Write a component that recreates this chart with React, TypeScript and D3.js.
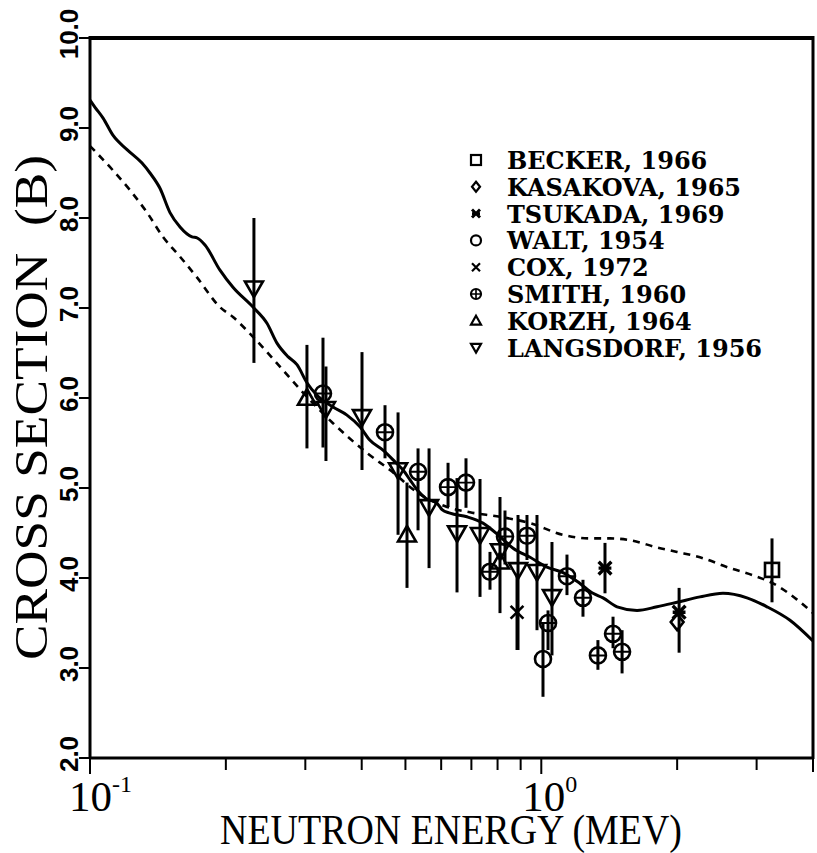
import { useEffect, useRef } from "react";
import * as d3 from "d3";

const WIDTH = 817;
const HEIGHT = 853;

// evaluated cross section, solid curve (MeV, barns)
const solidEnergy = [0.1, 0.1026, 0.1069, 0.1124, 0.1208, 0.1304, 0.1358, 0.1429, 0.1504, 0.1583, 0.1683, 0.1726, 0.1798, 0.1941, 0.2074, 0.2297, 0.2467, 0.2596, 0.2746, 0.2875, 0.3025, 0.3184, 0.3455, 0.371, 0.3965, 0.4173, 0.4459, 0.4742, 0.494, 0.5119, 0.5305, 0.5527, 0.5874, 0.6026, 0.6277, 0.6844, 0.7426, 0.8099, 0.866, 0.9441, 1.0295, 1.117, 1.218, 1.302, 1.37, 1.472, 1.63, 1.805, 1.999, 2.247, 2.527, 2.856, 3.163, 3.557, 4.0];
const solidSigma = [9.31, 9.23, 9.11, 8.92, 8.76, 8.61, 8.5, 8.33, 8.06, 7.9, 7.79, 7.78, 7.7, 7.42, 7.23, 7.01, 6.83, 6.61, 6.46, 6.37, 6.17, 6.03, 5.9, 5.81, 5.68, 5.53, 5.42, 5.29, 5.2, 5.09, 4.98, 4.89, 4.83, 4.76, 4.72, 4.68, 4.61, 4.46, 4.33, 4.23, 4.12, 4.06, 3.94, 3.83, 3.78, 3.68, 3.64, 3.68, 3.73, 3.79, 3.83, 3.78, 3.68, 3.53, 3.3];

// dashed curve
const dashedEnergy = [0.1, 0.1124, 0.1226, 0.1338, 0.1451, 0.1583, 0.1726, 0.1941, 0.2074, 0.2297, 0.2677, 0.2965, 0.3455, 0.411, 0.4621, 0.5386, 0.6182, 0.6951, 0.8099, 0.9441, 1.117, 1.282, 1.42, 1.572, 1.805, 1.999, 2.247, 2.619, 2.945, 3.262, 3.687, 4.0];
const dashedSigma = [8.8, 8.53, 8.31, 8.06, 7.79, 7.57, 7.34, 7.01, 6.9, 6.68, 6.31, 6.06, 5.72, 5.39, 5.2, 4.93, 4.79, 4.73, 4.68, 4.61, 4.48, 4.44, 4.44, 4.42, 4.34, 4.29, 4.23, 4.11, 4.03, 3.94, 3.76, 3.61];

// measurements: [energy, sigma, low, high]
const becker = [[3.245, 4.09, 3.73, 4.44]];
const kasakova = [[2.0, 3.51, 3.51, 3.51]];
const tsukada = [[1.384, 4.11, 3.83, 4.39], [2.02, 3.62, 3.17, 3.89]];
const walt = [[1.0087, 3.1, 2.68, 3.5]];
const cox = [[0.8835, 3.62, 3.2, 4.05]];
const smith = [
  [0.3283, 6.05, 5.45, 6.67], [0.4505, 5.62, 5.33, 5.92], [0.5332, 5.18, 4.53, 5.44],
  [0.6214, 5.01, 4.79, 5.28], [0.681, 5.06, 4.78, 5.33], [0.7697, 4.07, 3.87, 4.29],
  [0.8309, 4.46, 4.15, 4.75], [0.9296, 4.47, 4.2, 4.7], [1.035, 3.5, 3.2, 3.64],
  [1.14, 4.02, 3.81, 4.26], [1.237, 3.78, 3.57, 3.98], [1.335, 3.14, 2.98, 3.31],
  [1.442, 3.38, 3.22, 3.57], [1.51, 3.18, 2.94, 3.42],
];
const korzh = [[0.3025, 6.0, 5.44, 6.59], [0.504, 4.48, 3.89, 5.06], [0.81, 4.18, 4.18, 4.18]];
const langsdorf = [
  [0.2308, 7.22, 6.39, 8.0], [0.3333, 5.88, 5.3, 6.35], [0.4006, 5.79, 5.2, 6.51],
  [0.4815, 5.2, 4.48, 5.84], [0.564, 4.79, 4.11, 5.44], [0.6505, 4.5, 3.84, 5.11],
  [0.7315, 4.48, 3.79, 5.1], [0.81, 4.3, 3.61, 4.9], [0.888, 4.09, 3.2, 4.7],
  [0.9783, 4.07, 3.42, 4.7], [1.056, 3.79, 3.14, 4.4],
];

const legendNames = ["BECKER, 1966", "KASAKOVA, 1965", "TSUKADA, 1969", "WALT, 1954", "COX, 1972", "SMITH, 1960", "KORZH, 1964", "LANGSDORF, 1956"];
const legendSymbols = ["square", "diamond", "star", "circle", "cross", "circlePlus", "triUp", "triDown"];
const sets = [becker, kasakova, tsukada, walt, cox, smith, korzh, langsdorf];

const yTicks = [2, 3, 4, 5, 6, 7, 8, 9, 10];
const xMinorTicks = [0.2, 0.3, 0.4, 0.5, 0.6, 0.7, 0.8, 0.9, 2, 3];
const xMajorTicks = [0.1, 1];

function drawSymbol(g, type, x, y, s, w) {
  const k = g.append("g").attr("transform", `translate(${x},${y})`)
    .attr("fill", "none").attr("stroke", "#000").attr("stroke-width", w);
  if (type === "square") {
    k.append("rect").attr("x", -s).attr("y", -s).attr("width", 2 * s).attr("height", 2 * s);
  } else if (type === "diamond") {
    k.append("path").attr("d", `M0,${-s}L${s * 0.8},0L0,${s}L${-s * 0.8},0Z`);
  } else if (type === "circle") {
    k.append("circle").attr("r", s);
  } else if (type === "circlePlus") {
    k.append("circle").attr("r", s);
    k.append("path").attr("d", `M${-s},0H${s}M0,${-s}V${s}`).attr("stroke-width", w * 0.75);
  } else if (type === "cross") {
    const c = s * 0.8;
    k.append("path").attr("d", `M${-c},${-c}L${c},${c}M${-c},${c}L${c},${-c}`);
  } else if (type === "star") {
    const c = s * 0.8;
    k.append("path").attr("d", `M${-c},${-c}L${c},${c}M${-c},${c}L${c},${-c}M${-c},0H${c}`).attr("stroke-width", w * 1.3);
  } else if (type === "triUp") {
    k.append("path").attr("d", `M0,${-s}L${s},${s * 0.75}L${-s},${s * 0.75}Z`);
  } else if (type === "triDown") {
    k.append("path").attr("d", `M0,${s}L${s},${-s * 0.75}L${-s},${-s * 0.75}Z`);
  }
}

export default function App() {
  const svgRef = useRef(null);

  useEffect(() => {
    const svg = d3.select(svgRef.current);
    svg.selectAll("*").remove();

    const left = 90, right = 813, top = 38, bottom = 758;
    const x = d3.scaleLog().domain([0.1, 4]).range([left, right]);
    const y = d3.scaleLinear().domain([2, 10]).range([bottom, top]);

    // frame
    svg.append("line").attr("x1", left).attr("x2", right).attr("y1", top).attr("y2", top)
      .attr("stroke", "#000").attr("stroke-width", 4);
    svg.append("line").attr("x1", left).attr("x2", right).attr("y1", bottom).attr("y2", bottom)
      .attr("stroke", "#000").attr("stroke-width", 3);
    svg.append("line").attr("x1", left).attr("x2", left).attr("y1", top - 2).attr("y2", bottom + 1)
      .attr("stroke", "#000").attr("stroke-width", 3);
    svg.append("line").attr("x1", right).attr("x2", right).attr("y1", top - 2).attr("y2", bottom + 1)
      .attr("stroke", "#000").attr("stroke-width", 3);

    // y ticks and labels
    yTicks.forEach(v => {
      svg.append("line").attr("x1", left - 11).attr("x2", left).attr("y1", y(v)).attr("y2", y(v))
        .attr("stroke", "#000").attr("stroke-width", 2);
      svg.append("text")
        .attr("transform", `translate(78,${y(v) - 4}) rotate(-90)`)
        .attr("text-anchor", "middle")
        .attr("font-family", "Liberation Sans, Arial, sans-serif")
        .attr("font-weight", "bold")
        .attr("font-size", 26)
        .text(v.toFixed(1));
    });

    // x ticks
    xMinorTicks.forEach(v => {
      svg.append("line").attr("x1", x(v)).attr("x2", x(v)).attr("y1", bottom).attr("y2", bottom + 12)
        .attr("stroke", "#000").attr("stroke-width", 2);
    });
    xMajorTicks.forEach(v => {
      svg.append("line").attr("x1", x(v)).attr("x2", x(v)).attr("y1", bottom).attr("y2", bottom + 16)
        .attr("stroke", "#000").attr("stroke-width", 2);
    });
    svg.append("line").attr("x1", right).attr("x2", right).attr("y1", bottom).attr("y2", bottom + 14)
      .attr("stroke", "#000").attr("stroke-width", 2);

    const xl = svg.append("g").attr("font-family", "Liberation Serif, Times New Roman, serif");
    const t1 = xl.append("text").attr("x", x(0.1) - 21).attr("y", 811).attr("font-size", 43);
    t1.append("tspan").text("10");
    t1.append("tspan").attr("dy", -19).attr("font-size", 24).text("-1");
    const t2 = xl.append("text").attr("x", x(1) - 19).attr("y", 811).attr("font-size", 43);
    t2.append("tspan").text("10");
    t2.append("tspan").attr("dy", -19).attr("font-size", 24).text("0");

    // axis titles
    svg.append("text").attr("x", 220).attr("y", 844)
      .attr("font-family", "Liberation Serif, Times New Roman, serif")
      .attr("font-size", 43).attr("textLength", 462).attr("lengthAdjust", "spacingAndGlyphs")
      .text("NEUTRON ENERGY (MEV)");
    svg.append("text")
      .attr("transform", `translate(47,660) rotate(-90)`)
      .attr("font-family", "Liberation Serif, Times New Roman, serif")
      .attr("font-size", 46).attr("textLength", 505).attr("lengthAdjust", "spacingAndGlyphs")
      .attr("xml:space", "preserve")
      .text("CROSS SECTION  (B)");

    // curves
    const line = d3.line().x(d => x(d[0])).y(d => y(d[1])).curve(d3.curveMonotoneX);
    svg.append("path").attr("d", line(solidEnergy.map((e, i) => [e, solidSigma[i]])))
      .attr("fill", "none").attr("stroke", "#000").attr("stroke-width", 3);
    svg.append("path").attr("d", line(dashedEnergy.map((e, i) => [e, dashedSigma[i]])))
      .attr("fill", "none").attr("stroke", "#000").attr("stroke-width", 2.6)
      .attr("stroke-dasharray", "7,6");

    // error bars then markers
    const pts = svg.append("g");
    sets.forEach(set => {
      set.forEach(d => {
        if (d[3] > d[2]) {
          pts.append("line").attr("x1", x(d[0])).attr("x2", x(d[0]))
            .attr("y1", y(d[3])).attr("y2", y(d[2]))
            .attr("stroke", "#000").attr("stroke-width", 3);
        }
      });
    });
    sets.forEach((set, si) => {
      const type = legendSymbols[si];
      const s = type === "square" ? 7 : type.startsWith("tri") ? 9 : 8;
      set.forEach(d => drawSymbol(pts, type, x(d[0]), y(d[1]), s, 2.6));
    });

    // legend
    const lg = svg.append("g");
    legendNames.forEach((name, i) => {
      const cy = 160 + i * 26.8;
      drawSymbol(lg, legendSymbols[i], 476, cy, 5, 2.2);
      lg.append("text").attr("x", 507).attr("y", cy + 9)
        .attr("font-family", "DejaVu Serif, serif").attr("font-weight", "bold")
        .attr("font-size", 24).text(name);
    });
  }, []);

  return (
    <svg ref={svgRef} width={WIDTH} height={HEIGHT}
      style={{ position: "absolute", left: 0, top: 0, background: "#fff" }} />
  );
}
